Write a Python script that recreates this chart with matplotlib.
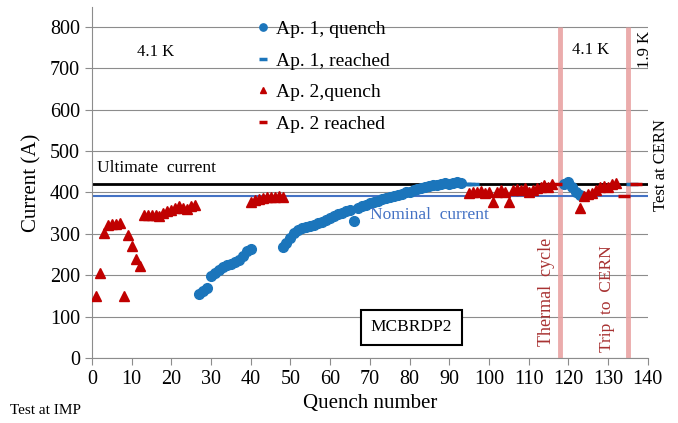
import matplotlib
matplotlib.use('Agg')
import matplotlib.pyplot as plt

plt.rcParams.update({
    'font.family': ['Liberation Serif', 'DejaVu Serif'],
    'font.size': 13,
})

# ── data ──────────────────────────────────────────────────────────
ap1_q_x = list(range(27, 41)) + list(range(48, 94)) + list(range(119, 124))
ap1_q_y = [155, 163, 170, 198, 205, 212, 220, 224, 227, 232, 236, 247, 258, 264,
           269, 278, 290, 303, 310, 313, 316, 320, 322, 325, 328, 333, 338, 342,
           347, 350, 354, 357, 330, 362, 366, 370, 374, 377, 380, 383, 386, 388,
           391, 394, 397, 400, 402, 405, 408, 411, 413, 415, 417, 419, 421, 422,
           420, 423, 424, 422,
           420, 425, 412, 400, 393]

ap1_r_x = [94, 95, 96, 136]
ap1_r_y = [420, 420, 420, 420]

ap2_q_x = list(range(1, 27)) + list(range(40, 49)) + list(range(95, 117)) + list(range(123, 133))
ap2_q_y = [150, 206, 301, 321, 323, 323, 325, 150, 297, 270, 238, 222,
           345, 345, 345, 345, 342, 350, 355, 358, 362, 366, 362, 360, 366, 370,
           378, 382, 385, 386, 388, 390, 388, 392, 390,
           398, 402, 400, 404, 398, 402, 378, 400, 405, 402, 378, 405, 408, 405,
           410, 402, 406, 410, 412, 418, 414, 420,
           362, 392, 395, 398, 406, 412, 416, 414, 420, 423]

ap2_r_x = [117, 134, 137]
ap2_r_y = [420, 392, 420]

ultimate_current = 420
nominal_current = 392
events = [118, 135]   # thermal cycle, trip to CERN

C = {'ap1': '#1B75BB', 'ap2': '#C00000', 'nominal': '#4472C4',
     'band': '#E9A3A3', 'event_text': '#A83232', 'grid': '#8C8C8C'}

fig = plt.figure(figsize=(6.78, 4.23), dpi=100)
ax = fig.add_axes([0.1357, 0.1537, 0.8196, 0.8298])

ax.set_xlim(0, 140)
ax.set_ylim(0, 848)
ax.set_xticks(range(0, 141, 10))
ax.set_yticks(range(0, 801, 100))
ax.grid(axis='y', color=C['grid'], linewidth=0.8)
ax.set_axisbelow(True)
for s in ('top', 'right'):
    ax.spines[s].set_visible(False)
for s in ('left', 'bottom'):
    ax.spines[s].set_color(C['grid'])
    ax.spines[s].set_linewidth(0.8)
ax.tick_params(direction='out', length=5, color=C['grid'], labelsize=14.5)

# reference lines and event bands
ax.hlines(ultimate_current, 0, 140, color='black', linewidth=2, zorder=2)
ax.hlines(nominal_current, 0, 140, color=C['nominal'], linewidth=1.5, zorder=2)
ax.vlines(events, 0, 800, color=C['band'], linewidth=3.5, alpha=0.9, zorder=1)

# data
ax.plot(ap1_q_x, ap1_q_y, 'o', color=C['ap1'], markersize=7, label='Ap. 1, quench', zorder=3)
ax.plot(ap1_r_x, ap1_r_y, '_', color=C['ap1'], markersize=8, mew=2.5, label='Ap. 1, reached', zorder=3)
ax.plot(ap2_q_x, ap2_q_y, '^', color=C['ap2'], markersize=6.5, label='Ap. 2,quench', zorder=4)
ax.plot(ap2_r_x, ap2_r_y, '_', color=C['ap2'], markersize=8, mew=2.5, label='Ap. 2 reached', zorder=4)

ax.legend(loc='upper left', bbox_to_anchor=(0.29, 0.962), frameon=False, fontsize=14,
          borderpad=0, borderaxespad=0, handlelength=1.0, handletextpad=0.2,
          labelspacing=0.72, markerscale=0.75)

ax.set_xlabel('Quench number', fontsize=15, labelpad=4)
ax.set_ylabel('Current (A)', fontsize=15, labelpad=6)

# annotations
ax.text(16, 740, '4.1 K', ha='center', va='center', fontsize=12)
ax.text(125.5, 745, '4.1 K', ha='center', va='center', fontsize=12)
ax.text(139.2, 745, '1.9 K', ha='center', va='center', rotation=90, fontsize=12)
ax.text(1.2, 458, 'Ultimate  current', ha='left', va='center', fontsize=12.5)
ax.text(70, 345, 'Nominal  current', ha='left', va='center', fontsize=12.5, color=C['nominal'])
ax.text(80.5, 74, 'MCBRDP2', ha='center', va='center', fontsize=12.5,
        bbox=dict(boxstyle='square,pad=0.55', facecolor='white', edgecolor='black', linewidth=1.5))
ax.text(114.5, 30, 'Thermal  cycle', ha='center', va='bottom', rotation=90,
        fontsize=13, color=C['event_text'])
ax.text(129.7, 15, 'Trip  to  CERN', ha='center', va='bottom', rotation=90,
        fontsize=12.5, color=C['event_text'])
fig.text(0.975, 0.61, 'Test at CERN', ha='center', va='center', rotation=90, fontsize=12)
fig.text(0.015, 0.03, 'Test at IMP', ha='left', va='center', fontsize=11)

fig.savefig('out.png', dpi=100)
